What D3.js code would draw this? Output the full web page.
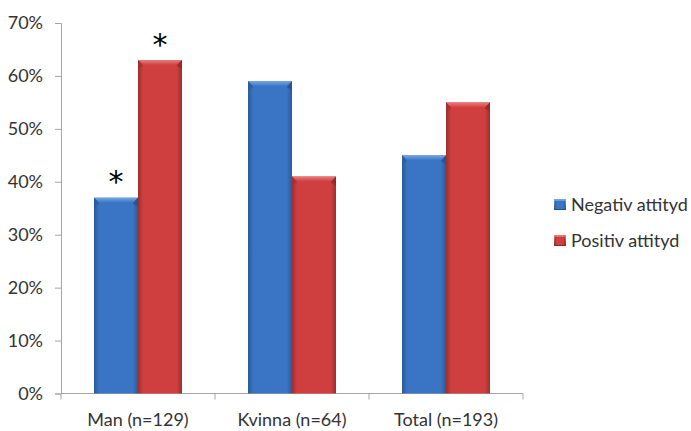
<!DOCTYPE html>
<html><head><meta charset="utf-8">
<script src="https://cdn.jsdelivr.net/npm/d3@7"></script>
<style>
body{margin:0;background:#fff;}
svg{display:block;font-family:Lato,"Open Sans",sans-serif;}
</style></head>
<body><svg id="c" width="691" height="431"></svg>
<script>
const categories = ["Man (n=129)", "Kvinna (n=64)", "Total (n=193)"];
const seriesNames = ["Negativ attityd", "Positiv attityd"];
const negativ = [0.37, 0.59, 0.45];
const positiv = [0.63, 0.41, 0.55];
const yTicks = [0, 0.1, 0.2, 0.3, 0.4, 0.5, 0.6, 0.7];
const markers = [["*", "*"], ["", ""], ["", ""]];

const svg = d3.select("#c");
const m = {left: 61, right: 168, top: 23, bottom: 37.5};
const W = 691, H = 431;
const textCol = "#333333";
const x = d3.scaleBand().domain(categories).range([m.left, W - m.right]).paddingInner(0).paddingOuter(0);
const xs = d3.scaleBand().domain(seriesNames).range([0, x.bandwidth()]).paddingOuter(0.75).paddingInner(0);
const y = d3.scaleLinear().domain([0, 0.7]).range([H - m.bottom, m.top]);

const defs = svg.append("defs");
const pal = [
  {name:"b", edge:"#2c5a98", mid:"#3a74c4", light:"#78a8e4", dark:"#234d85"},
  {name:"r", edge:"#9e2e2e", mid:"#d03f3f", light:"#ec7c7c", dark:"#862424"}
];
pal.forEach(p => {
  const g = defs.append("linearGradient").attr("id","h"+p.name).attr("x1",0).attr("x2",1).attr("y1",0).attr("y2",0);
  g.append("stop").attr("offset",0).attr("stop-color",p.edge);
  g.append("stop").attr("offset",0.12).attr("stop-color",p.mid);
  g.append("stop").attr("offset",0.88).attr("stop-color",p.mid);
  g.append("stop").attr("offset",1).attr("stop-color",p.edge);
  const t = defs.append("linearGradient").attr("id","t"+p.name).attr("x1",0).attr("x2",0).attr("y1",0).attr("y2",1);
  t.append("stop").attr("offset",0).attr("stop-color",p.light);
  t.append("stop").attr("offset",1).attr("stop-color",p.mid);
  const lg = defs.append("linearGradient").attr("id","g"+p.name).attr("x1",0).attr("x2",0).attr("y1",0).attr("y2",1);
  lg.append("stop").attr("offset",0).attr("stop-color",p.light);
  lg.append("stop").attr("offset",1).attr("stop-color",p.dark);
});

// axes
const ya = svg.append("g").attr("transform",`translate(${m.left},0)`)
  .call(d3.axisLeft(y).tickValues(yTicks).tickFormat(d3.format(".0%")).tickSize(6).tickPadding(12));
ya.select(".domain").attr("stroke","#a6a6a6");
ya.selectAll(".tick line").attr("stroke","#a6a6a6");
ya.selectAll("text").attr("font-size",18).attr("fill",textCol).attr("font-family","Lato");

const xa = svg.append("g").attr("transform",`translate(0,${H - m.bottom})`)
  .call(d3.axisBottom(x).tickSize(0).tickPadding(20));
xa.select(".domain").remove();
xa.selectAll("text").attr("font-size",18).attr("fill",textCol).attr("font-family","Lato");
// baseline and category separators
svg.append("line").attr("x1",m.left).attr("x2",W-m.right).attr("y1",y(0)).attr("y2",y(0)).attr("stroke","#a6a6a6");
const seps = categories.map(c => x(c)).concat([x(categories[2]) + x.bandwidth()]);
svg.selectAll(".sep").data(seps).join("line").attr("x1",d=>d).attr("x2",d=>d)
  .attr("y1",y(0)).attr("y2",y(0)+6).attr("stroke","#a6a6a6");

// bars
const data = [];
categories.forEach((c,i) => {
  data.push({c, s:0, v:negativ[i], mk:markers[i][0]});
  data.push({c, s:1, v:positiv[i], mk:markers[i][1]});
});
const bev = 5;
const gb = svg.append("g");
data.forEach(d => {
  const p = pal[d.s];
  const x0 = x(d.c) + xs(seriesNames[d.s]);
  const w = xs.bandwidth();
  const y0 = y(d.v), y1 = y(0);
  gb.append("rect").attr("x",x0).attr("y",y0).attr("width",w).attr("height",y1-y0).attr("fill",`url(#h${p.name})`);
  gb.append("path").attr("d",`M${x0},${y0}L${x0+w},${y0}L${x0+w-bev},${y0+bev}L${x0+bev},${y0+bev}Z`).attr("fill",`url(#t${p.name})`);
  gb.append("path").attr("d",`M${x0},${y0}L${x0+bev},${y0+bev}L${x0+bev},${y0+bev+1}L${x0},${y0+bev+4}Z`).attr("fill",p.edge).attr("opacity",0.6);
  gb.append("path").attr("d",`M${x0+w},${y0}L${x0+w-bev},${y0+bev}L${x0+w-bev},${y0+bev+1}L${x0+w},${y0+bev+4}Z`).attr("fill",p.dark).attr("opacity",0.6);
  if (d.mk) {
    svg.append("text").attr("x",x0+w/2).attr("y",y0-4).attr("text-anchor","middle")
      .attr("font-size",30).attr("font-family","DejaVu Sans").attr("fill","#000").text(d.mk)
      .attr("dy","0.55em").attr("transform",`translate(0,-18)`);
  }
});

// legend
const lg = svg.append("g");
seriesNames.forEach((s,i) => {
  const yy = 199 + i*36;
  lg.append("rect").attr("x",554).attr("y",yy).attr("width",12).attr("height",11).attr("fill",`url(#g${pal[i].name})`);
  lg.append("rect").attr("x",555).attr("y",yy+2).attr("width",10).attr("height",8).attr("fill",`url(#h${pal[i].name})`);
  lg.append("text").attr("x",571).attr("y",yy+11.5).attr("font-size",18).attr("font-family","Lato").attr("fill",textCol).text(s);
});
</script></body></html>
